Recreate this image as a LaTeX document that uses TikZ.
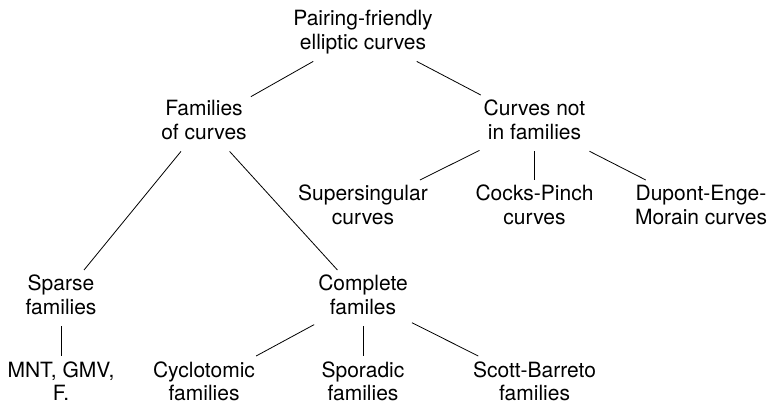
\documentclass[tikz,border=0pt]{standalone}
\usepackage{fontspec}
\setmainfont{TeX Gyre Heros}
\begin{document}
\begin{tikzpicture}[x=1pt,y=-1pt,
    cls/.style={align=center, inner sep=4pt, font=\fontsize{21}{24}\selectfont},
    branch/.style={line width=0.8pt}]
  \useasboundingbox (0,0) rectangle (769,403);

  % Root
  \node[cls] (root) at (363,33.2) {\strut Pairing-friendly\\elliptic curves\strut};

  % Second level
  \node[cls] (fam) at (204,123.2) {\strut Families\\of curves\strut};
  \node[cls] (notfam) at (534.5,123.2) {\strut Curves not\\in families\strut};

  % Curves not in families
  \node[cls] (super) at (363,208.2) {\strut Supersingular\\curves\strut};
  \node[cls] (cocks) at (534.5,208.2) {\strut Cocks-Pinch\\curves\strut};
  \node[cls] (dem) at (701,208.2) {\strut Dupont-Enge-\\Morain curves\strut};

  % Families
  \node[cls] (sparse) at (61,298.2) {\strut Sparse\\families\strut};
  \node[cls] (complete) at (363,298.2) {\strut Complete\\familes\strut};

  % Leaves
  \node[cls] (mnt) at (61,384.2) {\strut MNT, GMV,\\F.\strut};
  \node[cls] (cyclo) at (204,384.2) {\strut Cyclotomic\\families\strut};
  \node[cls] (spor) at (363,384.2) {\strut Sporadic\\families\strut};
  \node[cls] (sb) at (534.5,384.2) {\strut Scott-Barreto\\families\strut};

  % Branches
  \draw[branch] (root) -- (fam);
  \draw[branch] (root) -- (notfam);
  \draw[branch] (notfam) -- (super);
  \draw[branch] (notfam) -- (cocks);
  \draw[branch] (notfam) -- (dem);
  \draw[branch] (fam) -- (sparse);
  \draw[branch] (fam) -- (complete);
  \draw[branch] (sparse) -- (mnt);
  \draw[branch] (complete) -- (cyclo);
  \draw[branch] (complete) -- (spor);
  \draw[branch] (complete) -- (sb);
\end{tikzpicture}
\end{document}
